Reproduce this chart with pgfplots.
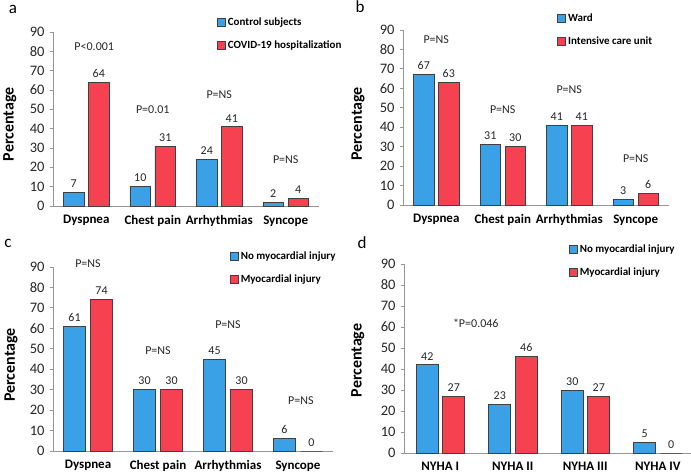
\documentclass[border=0pt]{standalone}
\usepackage{pgfplots}
\pgfplotsset{compat=1.18}
\usepackage{fontspec}
\setmainfont{Carlito}
\definecolor{cblue}{RGB}{59,161,231}
\definecolor{cred}{RGB}{246,66,80}
\definecolor{cedge}{RGB}{64,64,64}
\definecolor{caxis}{RGB}{150,150,150}
\tikzset{
  pv/.style={font=\fontsize{12}{14}\selectfont, text=black!85, anchor=center},
  letter/.style={font=\fontsize{17}{19}\selectfont, anchor=center},
}
\pgfplotsset{
  panel/.style={
    scale only axis, clip=false,
    ybar,
    axis lines*=left,
    axis line style={caxis, line width=0.8pt},
    xmin=-0.5, xmax=3.5, ymin=0, ymax=90,
    xtick={0,1,2,3},
    ytick={0,10,...,90},
    major x tick style={draw=none},
    major y tick style={caxis, line width=0.8pt},
    tick align=outside, major tick length=3pt,
    /pgf/number format/assume math mode=true,
    yticklabel style={font=\fontsize{14.5}{16}\selectfont, text=black!85, xshift=-2pt},
    xticklabel style={font=\bfseries\fontsize{13}{15}\selectfont, text=black, yshift=-3pt},
    ylabel={Percentage},
    nodes near coords,
    every node near coord/.append style={font=\fontsize{12}{14}\selectfont, text=black!85, anchor=south, yshift=1pt},
    legend image code/.code={\draw[##1, draw=cedge, line width=0.6pt] (0pt,-4pt) rectangle (8pt,4pt);},
    legend cell align=left,
    legend style={draw=none, fill=none, inner sep=0pt, row sep=10pt, anchor=north west,
      font=\bfseries\fontsize{11}{13}\selectfont},
  },
  ylab/.style 2 args={every axis y label/.style={at={(axis description cs:#1,#2)}, rotate=90, anchor=center,
      font=\bfseries\fontsize{16}{18}\selectfont}},
  bblue/.style={fill=cblue, draw=cedge, line width=0.8pt},
  bred/.style={fill=cred, draw=cedge, line width=0.8pt},
}
\begin{document}
\begin{tikzpicture}
\path[use as bounding box] (0pt,0pt) rectangle (691pt,-476pt);
% panel a
\begin{axis}[panel, at={(53pt,-206pt)}, anchor=south west, width=266pt, height=174pt,
  bar width=20.5pt,
  xticklabels={Dyspnea, Chest pain, Arrhythmias, Syncope},
  ylab={-0.162}{0.47},
  legend style={at={(axis description cs:0.617,1.095)}}]
\addplot[bblue, bar shift=-12.5pt] coordinates {(0,7) (1,10) (2,24) (3,2)};
\addplot[bred, bar shift=12.5pt] coordinates {(0,64) (1,31) (2,41) (3,4)};
\legend{Control subjects, COVID-19 hospitalization}
\node[pv] at (axis cs:0.12,82.3) {P<0.001};
\node[pv] at (axis cs:1.0,49.7) {P=0.01};
\node[pv] at (axis cs:2.0,57.4) {P=NS};
\node[pv] at (axis cs:3.0,23.8) {P=NS};
\end{axis}
% panel b
\begin{axis}[panel, at={(403pt,-205pt)}, anchor=south west, width=266pt, height=175pt,
  bar width=20.5pt,
  xticklabels={Dyspnea, Chest pain, Arrhythmias, Syncope},
  ylab={-0.169}{0.463},
  legend style={at={(axis description cs:0.58,1.105)}}]
\addplot[bblue, bar shift=-12.5pt] coordinates {(0,67) (1,31) (2,41) (3,3)};
\addplot[bred, bar shift=12.5pt] coordinates {(0,63) (1,30) (2,41) (3,6)};
\legend{Ward, Intensive care unit}
\node[pv] at (axis cs:0,84.9) {P=NS};
\node[pv] at (axis cs:1,48.9) {P=NS};
\node[pv] at (axis cs:2,59.2) {P=NS};
\node[pv] at (axis cs:3,24) {P=NS};
\end{axis}
% panel c
\begin{axis}[panel, at={(53pt,-451pt)}, anchor=south west, width=280pt, height=184pt,
  bar width=22pt,
  xticklabels={Dyspnea, Chest pain, Arrhythmias, Syncope},
  ylab={-0.15}{0.467},
  legend style={at={(axis description cs:0.632,1.095)}}]
\addplot[bblue, bar shift=-13.5pt] coordinates {(0,61) (1,30) (2,45) (3,6)};
\addplot[bred, bar shift=13.5pt] coordinates {(0,74) (1,30) (2,30) (3,0)};
\legend{No myocardial injury, Myocardial injury}
\node[pv] at (axis cs:0,91.5) {P=NS};
\node[pv] at (axis cs:1,48.9) {P=NS};
\node[pv] at (axis cs:2,61.6) {P=NS};
\node[pv] at (axis cs:3.04,24.5) {P=NS};
\end{axis}
% panel d
\begin{axis}[panel, at={(404pt,-453pt)}, anchor=south west, width=290pt, height=189pt,
  bar width=22pt,
  xticklabels={NYHA I, NYHA II, NYHA III, NYHA IV},
  ylab={-0.159}{0.49},
  legend style={at={(axis description cs:0.569,1.115)}}]
\addplot[bblue, bar shift=-13pt] coordinates {(0,42) (1,23) (2,30) (3,5)};
\addplot[bred, bar shift=13.5pt] coordinates {(0,27) (1,46) (2,27) (3,0)};
\legend{No myocardial injury, Myocardial injury}
\node[pv] at (axis cs:0.49,61.9) {*P=0.046};
\end{axis}
\node[letter] at (13pt,-9pt) {a};
\node[letter] at (360pt,-7pt) {b};
\node[letter] at (8pt,-243pt) {c};
\node[letter] at (362pt,-243pt) {d};
\end{tikzpicture}
\end{document}
